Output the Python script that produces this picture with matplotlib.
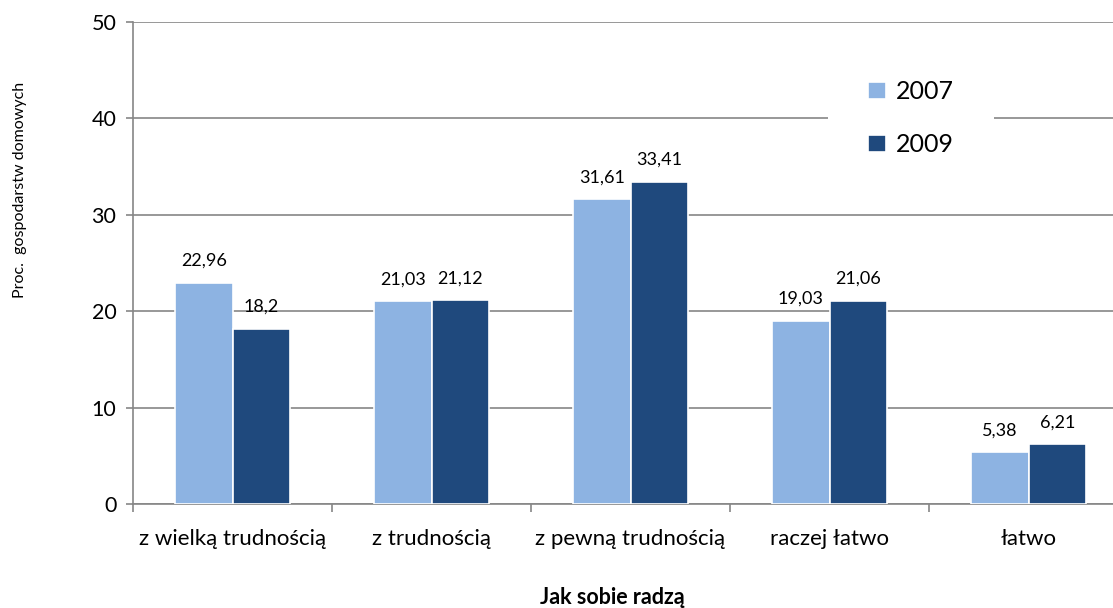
import matplotlib.pyplot as plt
import numpy as np

categories = ['z wielką trudnością', 'z trudnością', 'z pewną trudnością', 'raczej łatwo', 'łatwo']
years = ['2007', '2009']
values_2007 = [22.96, 21.03, 31.61, 19.03, 5.38]
values_2009 = [18.2, 21.12, 33.41, 21.06, 6.21]
labels_2007 = ['22,96', '21,03', '31,61', '19,03', '5,38']
labels_2009 = ['18,2', '21,12', '33,41', '21,06', '6,21']

plt.rcParams['font.family'] = ['Lato', 'DejaVu Sans']

fig = plt.figure(figsize=(11.13, 6.08), dpi=100)
ax = fig.add_axes([133 / 1113, 1 - 504 / 608, 995 / 1113, 482 / 608])

x = np.arange(len(categories))
w = 0.29
grid_col = '#868686'
light = '#8DB3E2'
dark = '#1F497D'

b1 = ax.bar(x - w / 2, values_2007, w, color=light, edgecolor='white', linewidth=1.2, label=years[0], zorder=3)
b2 = ax.bar(x + w / 2, values_2009, w, color=dark, edgecolor='white', linewidth=1.2, label=years[1], zorder=3)

for bars, labs in [(b1, labels_2007), (b2, labels_2009)]:
    for rect, lab in zip(bars, labs):
        ax.annotate(lab, (rect.get_x() + rect.get_width() / 2, rect.get_height()),
                    xytext=(0, 10), textcoords='offset points', ha='center', va='bottom',
                    fontsize=13, color='#000000')

ax.set_xlim(-0.5, 4.5)
ax.set_ylim(0, 50)
ax.set_yticks(range(0, 51, 10))
ax.yaxis.grid(True, color=grid_col, linewidth=1.2, zorder=0)
ax.set_axisbelow(True)

ax.set_xticks(x)
ax.set_xticklabels(categories, fontsize=16)
ax.set_xticks(np.arange(-0.5, 4.6, 1), minor=True)
ax.tick_params(axis='x', which='major', length=0, pad=18)
ax.tick_params(axis='x', which='minor', length=6, width=1.2, color=grid_col)
ax.tick_params(axis='y', length=5, width=1.2, color=grid_col, labelsize=15.5, pad=7)

for s in ['top', 'right']:
    ax.spines[s].set_visible(False)
for s in ['left', 'bottom']:
    ax.spines[s].set_color(grid_col)
    ax.spines[s].set_linewidth(1.2)

ax.set_xlabel('Jak sobie radzą', fontsize=15.5, fontweight='bold', va='center')
ax.xaxis.set_label_coords((612 - 133) / 995, -(597 - 504) / 482)
ax.set_ylabel('Proc.  gospodarstw domowych', fontsize=11.5, va='center')
ax.yaxis.set_label_coords(-(133 - 20) / 995, (504 - 190) / 482)

leg = ax.legend(loc='center', bbox_to_anchor=((911 - 133) / 995, (504 - 118) / 482),
                fontsize=18, frameon=True, facecolor='white', edgecolor='none', framealpha=1,
                handlelength=0.7, handleheight=0.7, handletextpad=0.4, labelspacing=1.2,
                borderpad=1.0, borderaxespad=0, fancybox=False)
leg.get_frame().set_boxstyle('square', pad=0.6)

plt.savefig('out.png', dpi=100)
